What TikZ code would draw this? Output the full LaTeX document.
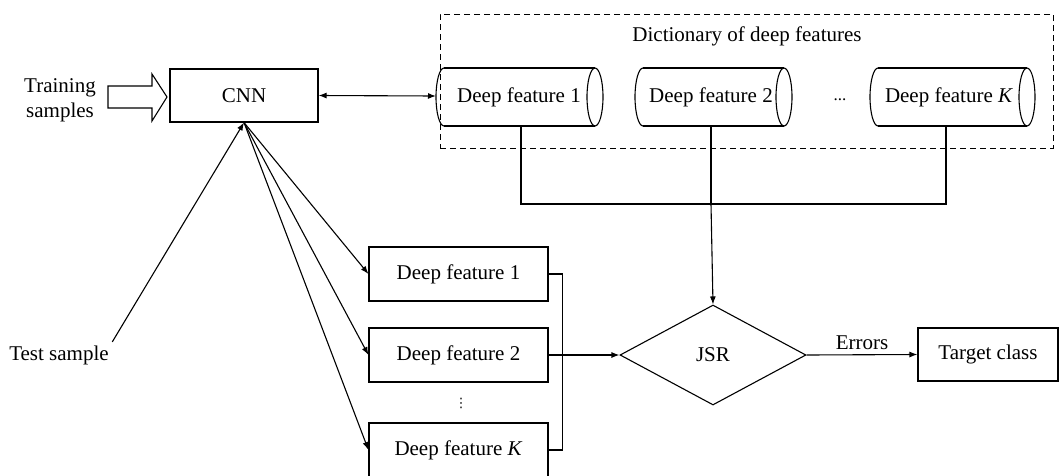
\documentclass[tikz,border=0pt]{standalone}
\usepackage{fontspec}
\setmainfont{Liberation Serif}
\newfontfamily\symfont{DejaVu Sans}
\usetikzlibrary{arrows.meta,shapes.geometric}
\begin{document}
\begin{tikzpicture}[x=1pt,y=-1pt,
  every node/.style={font=\fontsize{21}{25}\selectfont},
  ln/.style={line width=1.1pt},
  arr/.style={ln,-{Latex[length=8pt,width=6pt]}},
  darr/.style={ln,{Latex[length=8pt,width=6pt]}-{Latex[length=8pt,width=6pt]}},
  box/.style={draw,line width=1.1pt,rectangle,inner sep=0pt},
  cyl/.style={inner sep=0pt}]
\useasboundingbox (0,0) rectangle (1061,475);

% training samples
\node[align=center] (train) at (60,100) {Training\\samples};
\draw[ln] (108,86) -- (152,86) -- (152,74) -- (167,97) -- (152,121) -- (152,108) -- (108,108) -- cycle;

% CNN
\node[box,minimum width=148pt,minimum height=53pt] (cnn) at (244,95.5) {CNN};

% dictionary
\node[draw,line width=1pt,dash pattern=on 6pt off 4pt,minimum width=613pt,minimum height=134pt,inner sep=0pt] (dict) at (746.5,81) {};
\node (dictlabel) at (747,36) {Dictionary of deep features};

% cylinders
\node[cyl] (c1) at (519,97) {Deep feature 1};
\node[cyl] (c2) at (711,97) {Deep feature 2};
\node[cyl] (cK) at (949,97) {Deep feature \textit{K}};
\node[font=\fontsize{17}{20}\selectfont] (cdots) at (840,100) {...};
\foreach \xl/\xr in {444/595, 643/784, 878/1027}{
  \draw[ln] (\xl,68) -- (\xr,68);
  \draw[ln] (\xl,126) -- (\xr,126);
  \draw[ln] (\xr,97) ellipse [x radius=8, y radius=29];
  \draw[ln] (\xl,68) .. controls (\xl-4.4,68) and (\xl-8,81) .. (\xl-8,97)
                     .. controls (\xl-8,113) and (\xl-4.4,126) .. (\xl,126);
}
\coordinate (c1w) at (436,96);
\coordinate (c1b) at (521,126);
\coordinate (c2b) at (711,126);
\coordinate (cKb) at (946,126);
\coordinate (j) at (711,204);

% left deep features
\node[box,minimum width=179pt,minimum height=54pt] (f1) at (458.5,274) {Deep feature 1};
\node[box,minimum width=179pt,minimum height=54pt] (f2) at (458.5,355) {Deep feature 2};
\node[box,minimum width=179pt,minimum height=54pt] (fK) at (458.5,450) {Deep feature \textit{K}};
\node[font=\symfont\fontsize{13}{15}\selectfont] (vd) at (461,403) {⋮};

% JSR and target
\node[draw,diamond,line width=1.1pt,minimum width=186pt,minimum height=100pt,inner sep=0pt,aspect=1.86] (jsr) at (713,355) {JSR};
\node[box,minimum width=140pt,minimum height=53pt] (tc) at (988,354.5) {Target class};

% test sample
\node (test) at (59,355) {Test sample};

% connectors
\draw[darr] (cnn.east) -- (c1w);
\draw[arr] (test.north east) -- (cnn.south);
\draw[arr] (cnn.south) -- (f1.west);
\draw[arr] (cnn.south) -- (f2.west);
\draw[arr] (cnn.south) -- (fK.west);
\draw[ln] (c1b) |- (j) -| (cKb);
\draw[ln] (c2b) -- (j);
\draw[arr] (j) -- (jsr.north);
\draw[ln] (f1.east) -- ++(14,0) |- (fK.east);
\draw[arr] (f2.east) -- (jsr.west);
\draw[arr] (jsr.east) -- node[above=1pt] (err) {Errors} (tc.west);
\end{tikzpicture}
\end{document}
